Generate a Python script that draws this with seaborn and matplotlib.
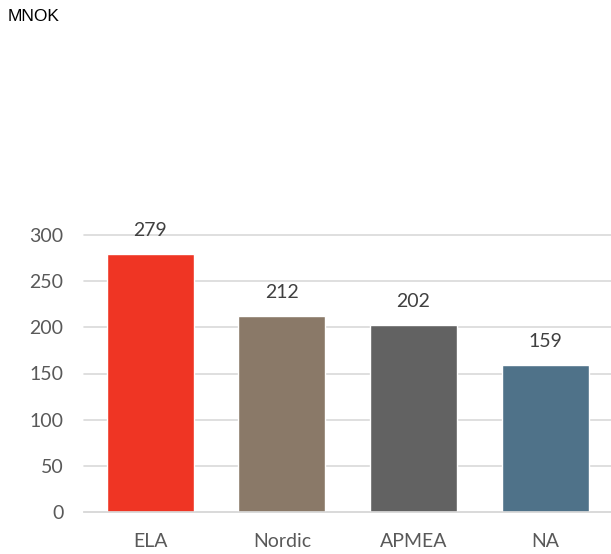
import pandas as pd
import seaborn as sns
import matplotlib.pyplot as plt

regions = ["ELA", "Nordic", "APMEA", "NA"]
values = [279, 212, 202, 159]
colors = ["#EF3524", "#8A7968", "#626262", "#4F7289"]
yticks = [0, 50, 100, 150, 200, 250, 300]

df = pd.DataFrame({"region": regions, "value": values})

sns.set_style("white")
plt.rcParams["font.family"] = ["Lato", "DejaVu Sans"]

fig = plt.figure(figsize=(6.11, 5.54), dpi=100)
# plot area: 0 line at y=512px, 300 line at y=235px
ax = fig.add_axes([0.138, 1 - 512 / 554, 0.862, (512 - 235) / 554])

sns.barplot(data=df, x="region", y="value", hue="region", palette=colors,
            width=0.66, legend=False, saturation=1, ax=ax)

ax.set_ylim(0, 300)
ax.set_xlim(-0.5, 3.5)
ax.set_yticks(yticks)
ax.yaxis.grid(True, color="#d9d9d9", linewidth=1.2, clip_on=False)
ax.set_axisbelow(True)
for s in ["top", "right", "left"]:
    ax.spines[s].set_visible(False)
ax.spines["bottom"].set_color("#d9d9d9")
ax.spines["bottom"].set_linewidth(1.2)
ax.tick_params(axis="both", length=0, labelsize=14, labelcolor="#595959")
ax.tick_params(axis="x", pad=15)
ax.tick_params(axis="y", pad=15)
ax.set(xlabel=None, ylabel=None)

for c in ax.containers:
    ax.bar_label(c, fmt="%d", padding=11, fontsize=14, color="#404040")

fig.text(0.013, 0.97, "MNOK", fontsize=12.5, family="Liberation Sans",
         color="black", va="center", ha="left")

plt.savefig("out.png", dpi=100)
